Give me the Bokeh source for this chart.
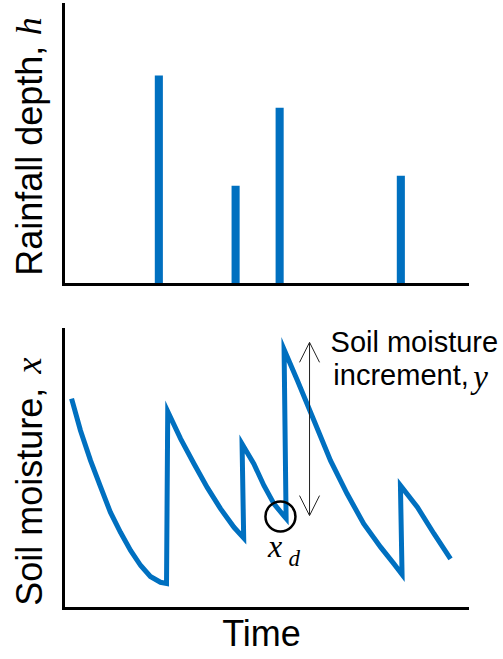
import numpy as np
from bokeh.plotting import figure
from bokeh.models import Range1d, Label, Arrow, OpenHead, FixedTicker
from bokeh.layouts import column, row
from bokeh.core.properties import value
from bokeh.embed import file_html
from bokeh.resources import INLINE

# ---- data (schematic units: time 0-100, value 0-100) ----
rain_time = [23.6, 42.6, 53.5, 83.5]
rain_depth = [74.6, 35.3, 63.1, 38.8]

moist_time = [2.0, 4.2, 6.7, 9.2, 11.6, 14.1, 16.6, 19.1, 21.5, 24.0, 25.5,
              25.8, 29.0, 32.3, 35.6, 38.9, 42.2, 44.6,
              44.2, 47.1, 49.6, 52.1, 54.5, 55.1,
              54.6, 57.9, 62.0, 66.1, 70.2, 74.3, 78.5, 81.8, 83.8,
              83.4, 87.6, 91.7, 95.8]
moist_value = [75.2, 63.8, 53.0, 43.5, 34.5, 27.3, 20.8, 15.4, 11.5, 9.4, 9.0,
               70.6, 60.8, 51.9, 43.3, 35.7, 29.1, 25.3,
               59.0, 51.9, 44.1, 37.5, 33.3, 32.3,
               92.8, 81.7, 67.4, 53.0, 41.1, 30.4, 22.0, 16.0, 12.2,
               44.1, 36.3, 26.8, 17.8]

xd_time = [53.7]
xd_value = [33.0]

incr_time = 60.9
incr_low = 33.3
incr_high = 95.4

BLUE = "#0070C0"
SANS = "Liberation Sans"
SERIF = "Liberation Serif"


def style(p):
    p.xgrid.visible = False
    p.ygrid.visible = False
    p.outline_line_color = None
    for ax in (p.xaxis[0], p.yaxis[0]):
        ax.ticker = FixedTicker(ticks=[])
        ax.axis_line_width = 3
        ax.axis_line_color = "black"
        ax.axis_line_cap = "square"
        ax.major_tick_line_color = None
        ax.minor_tick_line_color = None
        ax.major_tick_out = 0
        ax.major_tick_in = 0
        ax.minor_tick_out = 0
        ax.major_label_text_font_size = "0px"
        ax.major_label_standoff = 0
        ax.axis_label = None


def text_fig(w, h):
    f = figure(width=w, height=h, x_range=Range1d(0, w), y_range=Range1d(0, h),
               x_axis_type=None, y_axis_type=None, min_border=0,
               toolbar_location=None, output_backend="svg")
    f.outline_line_color = None
    f.xgrid.visible = False
    f.ygrid.visible = False
    return f


# ---- top panel: rainfall ----
p1 = figure(frame_width=404, frame_height=280,
            min_border_left=3, min_border_right=36,
            min_border_top=4, min_border_bottom=26,
            x_range=Range1d(0, 100), y_range=Range1d(0, 100),
            toolbar_location=None, output_backend="svg")
style(p1)
p1.vbar(x=rain_time, top=rain_depth, bottom=0, width=2.0,
        fill_color=BLUE, line_color=None)

lbl1 = text_fig(60, 310)
lbl1.text(x=[28.7], y=[137], text=["Rainfall depth,"], angle=np.pi / 2,
          text_align="center", text_baseline="alphabetic",
          text_font=value(SANS), text_font_size="36px", text_color="black")
lbl1.text(x=[28.7], y=[286], text=["h"], angle=np.pi / 2,
          text_align="center", text_baseline="alphabetic",
          text_font=value(SERIF), text_font_style="italic",
          text_font_size="36px", text_color="black")

# ---- bottom panel: soil moisture ----
p2 = figure(frame_width=440, frame_height=279,
            min_border_left=3, min_border_right=0,
            min_border_top=19, min_border_bottom=4,
            x_range=Range1d(0, 440 / 4.04), y_range=Range1d(0, 100),
            toolbar_location=None, output_backend="svg")
style(p2)
p2.xaxis[0].bounds = (0, 100)
p2.line(moist_time, moist_value, line_color=BLUE, line_width=5,
        line_join="miter")
p2.scatter(xd_time, xd_value, marker="circle", size=30,
           fill_color=None, line_color="black", line_width=2.5)

p2.add_layout(Arrow(start=OpenHead(size=20, line_width=1, line_color="#222222"),
                    end=OpenHead(size=20, line_width=1, line_color="#222222"),
                    x_start=incr_time, y_start=incr_low,
                    x_end=incr_time, y_end=incr_high,
                    line_width=1, line_color="#222222"))

p2.add_layout(Label(x=66.1, y=95.6, text="Soil moisture",
                    text_align="left", text_baseline="alphabetic",
                    text_font=SANS, text_font_size="29px", text_color="black"))
p2.add_layout(Label(x=66.8, y=83.7, text="increment,",
                    text_align="left", text_baseline="alphabetic",
                    text_font=SANS, text_font_size="29px", text_color="black"))
p2.add_layout(Label(x=101.4, y=83.0, text="y",
                    text_align="left", text_baseline="alphabetic",
                    text_font=SERIF, text_font_style="italic",
                    text_font_size="33px", text_color="black"))

p2.add_layout(Label(x=50.6, y=22.4, text="x",
                    text_align="left", text_baseline="alphabetic",
                    text_font=SERIF, text_font_style="italic",
                    text_font_size="32px", text_color="black"))
p2.add_layout(Label(x=55.7, y=18.0, text="d",
                    text_align="left", text_baseline="alphabetic",
                    text_font=SERIF, text_font_style="italic",
                    text_font_size="23px", text_color="black"))

lbl2 = text_fig(60, 302)
lbl2.text(x=[28.7], y=[121], text=["Soil moisture,"], angle=np.pi / 2,
          text_align="center", text_baseline="alphabetic",
          text_font=value(SANS), text_font_size="36px", text_color="black")
lbl2.text(x=[28.7], y=[263], text=["x"], angle=np.pi / 2,
          text_align="center", text_baseline="alphabetic",
          text_font=value(SERIF), text_font_style="italic",
          text_font_size="36px", text_color="black")

# ---- x axis title ----
tfig = text_fig(503, 47)
tfig.text(x=[261], y=[26], text=["Time"],
          text_align="center", text_baseline="alphabetic",
          text_font=value(SANS), text_font_size="36px", text_color="black")

layout = column(row(lbl1, p1), row(lbl2, p2), tfig)

open("out.html", "w").write(file_html(layout, INLINE))
